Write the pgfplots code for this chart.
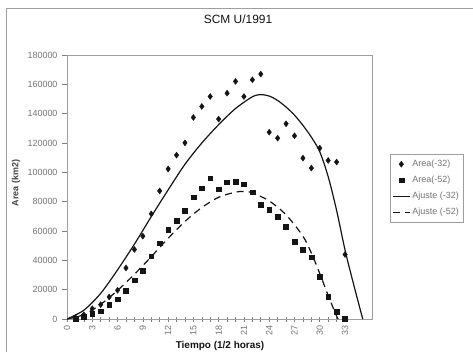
\documentclass[border=0pt]{standalone}
\usepackage{pgfplots}
\pgfplotsset{compat=1.18}
\usepackage{fontspec}
\setmainfont{Liberation Sans}
\definecolor{tickgray}{gray}{0.45}
\definecolor{framegray}{gray}{0.62}
\definecolor{ink}{gray}{0.08}

\begin{document}
\begin{tikzpicture}[x=1bp,y=1bp]
\path[use as bounding box] (0,0) rectangle (473,352);
\draw[framegray, line width=0.9bp] (6,0) -- (6,344) -- (480,344);
\node[font=\fontsize{12}{14}\selectfont, text=ink] at (238,333) {SCM U/1991};
\node[rotate=90, font=\bfseries\fontsize{9}{10}\selectfont, text=ink!80] at (16,169) {Area (km2)};
\node[font=\bfseries\fontsize{10}{11}\selectfont, text=ink] at (220,6) {Tiempo (1/2 horas)};
\begin{axis}[
  at={(67bp,33bp)}, anchor=south west,
  scale only axis, width=305bp, height=264bp,
  xmin=0, xmax=36.2, ymin=0, ymax=180000,
  axis line style={framegray, line width=0.8bp},
  xtick={0,3,...,33}, minor x tick num=2,
  ytick={0,20000,...,180000},
  xtick pos=bottom, ytick pos=left,
  xtick align=center, ytick align=outside,
  major tick length=5bp, minor tick length=5bp,
  tick style={framegray!80!black, line width=0.6bp},
  scaled y ticks=false,
  /pgf/number format/fixed,
  /pgf/number format/precision=0,
  /pgf/number format/1000 sep={},
  /pgf/number format/assume math mode=true,
  ticklabel style={font=\fontsize{9}{10}\selectfont, text=tickgray},
  xticklabel style={rotate=90, anchor=east},
  yticklabel style={xshift=-1bp},
  legend style={at={(1.059,0.625)}, anchor=north west, draw=framegray,
    font=\fontsize{9}{10}\selectfont, text=tickgray, row sep=4bp,
    inner ysep=4bp, inner xsep=2bp},
  legend cell align=left,
]
\addplot[only marks, mark=diamond*, mark size=3bp, ink] coordinates {
(1,1000) (2,2900) (3,7000) (4,9800) (5,15000) (6,19600) (7,34800) (8,47400)
(9,56500) (10,71700) (11,87300) (12,102300) (13,111700) (14,120100) (15,137400)
(16,144900) (17,151700) (18,136300) (19,154000) (20,162000) (21,151700)
(22,163100) (23,167000) (24,127400) (25,123300) (26,133100) (27,124900)
(28,109700) (29,102900) (30,116500) (31,108100) (32,107000) (33,44000)
};
\addlegendentry{Area(-32)}
\addplot[only marks, mark=square*, mark size=2.4bp, ink] coordinates {
(1,300) (2,1600) (3,3600) (4,5300) (5,10000) (6,13500) (7,19500) (8,26500)
(9,33000) (10,42800) (11,51700) (12,61000) (13,67100) (14,73700) (15,83000)
(16,89200) (17,96000) (18,88500) (19,93300) (20,93700) (21,91900) (22,86500)
(23,77700) (24,74600) (25,69800) (26,63000) (27,52800) (28,47100) (29,42100)
(30,28900) (31,15200) (32,5000) (33,0)
};
\addlegendentry{Area(-52)}
\addplot[ink, line width=1.2bp, smooth, tension=0.5] coordinates {
(0,0) (2,6000) (4,17500) (6,33500) (8,51000) (10,69800) (12,88000) (14,105500)
(16,120000) (18,132500) (20,143500) (22,151500) (23,153000) (24,152000)
(25,149000) (26,144500) (27,139000) (28,132000) (29,124000) (30,114000)
(31,97000) (32,74000) (33,47000) (34,24000) (35.1,0)
};
\addlegendentry{Ajuste (-32)}
\addplot[ink, line width=1.2bp, dash pattern=on 7bp off 5bp, smooth, tension=0.5] coordinates {
(0,0) (2,3000) (4,10000) (6,19500) (8,30500) (10,42500) (12,55000) (14,66500)
(16,76000) (18,83000) (20,86500) (21,87000) (22,86000) (24,80500) (26,71000)
(28,56500) (29,45000) (30,31000) (31,16000) (32,2000) (32.2,0)
};
\addlegendentry{Ajuste (-52)}
\end{axis}
\end{tikzpicture}
\end{document}
